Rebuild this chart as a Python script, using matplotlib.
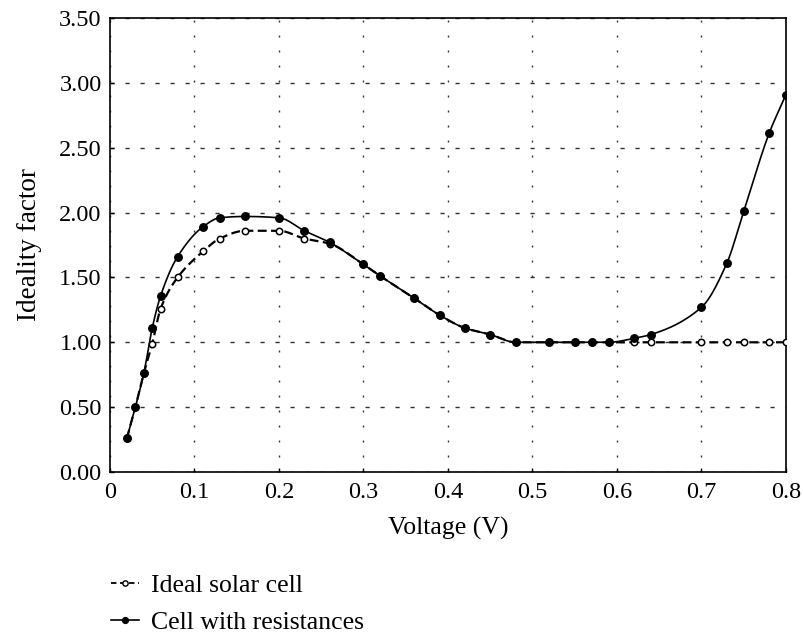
import numpy as np
import matplotlib
matplotlib.use("Agg")
import matplotlib.pyplot as plt
from matplotlib.lines import Line2D

plt.rcParams['font.family'] = ['Liberation Serif', 'DejaVu Serif']

# Measured ideality factor vs. applied voltage
voltage = [0.02, 0.03, 0.04, 0.05, 0.06, 0.08, 0.11, 0.13, 0.16, 0.20,
           0.23, 0.26, 0.30, 0.32, 0.36, 0.39, 0.42, 0.45, 0.48, 0.52,
           0.55, 0.57, 0.59, 0.62, 0.64, 0.70, 0.73, 0.75, 0.78, 0.80]
ideal = [0.26, 0.50, 0.76, 0.99, 1.26, 1.50, 1.70, 1.80, 1.86, 1.86,
         1.80, 1.76, 1.60, 1.51, 1.34, 1.21, 1.11, 1.06, 1.00, 1.00,
         1.00, 1.00, 1.00, 1.00, 1.00, 1.00, 1.00, 1.00, 1.00, 1.00]
resist = [0.26, 0.50, 0.76, 1.11, 1.36, 1.66, 1.89, 1.96, 1.97, 1.96,
          1.86, 1.77, 1.60, 1.51, 1.34, 1.21, 1.11, 1.06, 1.00, 1.00,
          1.00, 1.00, 1.00, 1.03, 1.06, 1.27, 1.61, 2.01, 2.61, 2.91]

x_ticks = [0, 0.1, 0.2, 0.3, 0.4, 0.5, 0.6, 0.7, 0.8]
x_tick_labels = ["0", "0.1", "0.2", "0.3", "0.4", "0.5", "0.6", "0.7", "0.8"]
y_ticks = [0.0, 0.5, 1.0, 1.5, 2.0, 2.5, 3.0, 3.5]
y_tick_labels = ["0.00", "0.50", "1.00", "1.50", "2.00", "2.50", "3.00", "3.50"]


def pchip(x, y, xs):
    """Shape-preserving piecewise cubic Hermite curve through (x, y)."""
    x = np.asarray(x, float)
    y = np.asarray(y, float)
    h = np.diff(x)
    d = np.diff(y) / h
    n = len(x)
    m = np.zeros(n)
    for k in range(1, n - 1):
        if d[k - 1] * d[k] > 0:
            w1 = 2 * h[k] + h[k - 1]
            w2 = h[k] + 2 * h[k - 1]
            m[k] = (w1 + w2) / (w1 / d[k - 1] + w2 / d[k])
    m[0] = d[0]
    m[-1] = d[-1]
    idx = np.clip(np.searchsorted(x, xs) - 1, 0, n - 2)
    t = (xs - x[idx]) / h[idx]
    h00 = 2 * t**3 - 3 * t**2 + 1
    h10 = t**3 - 2 * t**2 + t
    h01 = -2 * t**3 + 3 * t**2
    h11 = t**3 - t**2
    return (h00 * y[idx] + h10 * h[idx] * m[idx]
            + h01 * y[idx + 1] + h11 * h[idx] * m[idx + 1])


fig = plt.figure(figsize=(8.04, 6.33), dpi=100)
ax = fig.add_axes([0.1368, 0.2543, 0.8408, 0.7173])

xs = np.linspace(voltage[0], voltage[-1], 600)

ax.plot(xs, pchip(voltage, ideal, xs), color='black', lw=1.6,
        linestyle=(0, (4, 2)), zorder=3)
ax.plot(voltage, ideal, linestyle='none', marker='o', ms=4.6,
        mfc='white', mec='black', mew=1.1, zorder=4)

ax.plot(xs, pchip(voltage, resist, xs), color='black', lw=1.2, zorder=3)
ax.plot(voltage, resist, linestyle='none', marker='o', ms=5.4,
        mfc='black', mec='black', zorder=5)

ax.set_xlim(0, 0.8)
ax.set_ylim(0, 3.5)
ax.set_xticks(x_ticks)
ax.set_xticklabels(x_tick_labels)
ax.set_yticks(y_ticks)
ax.set_yticklabels(y_tick_labels)
ax.tick_params(direction='in', length=3, width=1, labelsize=17.5)
ax.tick_params(axis='y', pad=6)
ax.tick_params(axis='x', pad=7)
# dashed horizontal grid, dotted vertical grid
ax.yaxis.grid(True, color='#303030', linestyle=(0, (3.0, 7.8)), lw=1.0)
ax.xaxis.grid(True, color='#303030', linestyle=(0, (1.4, 9.4)), lw=1.0)
for s in ax.spines.values():
    s.set_linewidth(1.2)

ax.set_xlabel("Voltage (V)", fontsize=18.5, labelpad=10)
ax.set_ylabel("Ideality factor", fontsize=19.5, labelpad=12)

handles = [
    Line2D([], [], color='black', lw=1.3, linestyle=(0, (3, 2)),
           marker='o', ms=3.8, mfc='white', mec='black', mew=1.0),
    Line2D([], [], color='black', lw=1.2, marker='o', ms=4.2,
           mfc='black', mec='black'),
]
leg = fig.legend(handles, ["Ideal solar cell", "Cell with resistances"],
                 loc='upper left', frameon=False, fontsize=18.5,
                 handlelength=1.1, handletextpad=0.45, labelspacing=0.55,
                 borderaxespad=0, borderpad=0)
leg.set_bbox_to_anchor((0.138, 0.093), transform=fig.transFigure)

fig.savefig("out.png", dpi=100)
